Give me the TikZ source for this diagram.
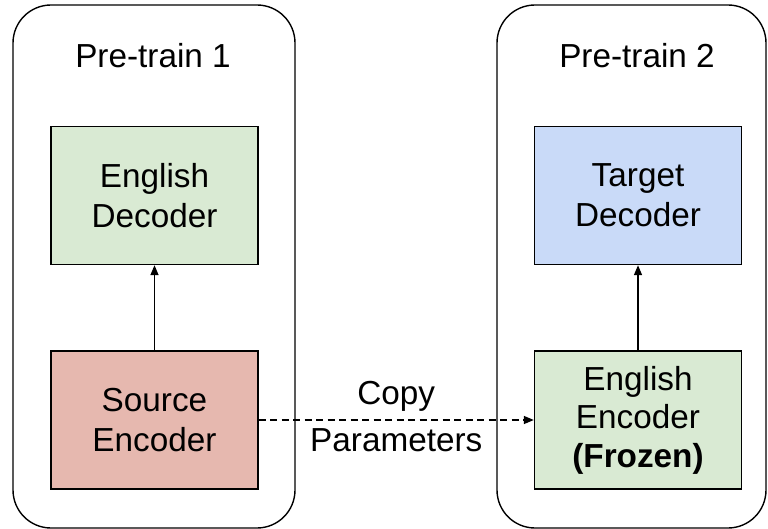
\documentclass[tikz,border=0pt]{standalone}
\usepackage{fontspec}
\setmainfont{Liberation Sans}
\usetikzlibrary{arrows.meta}
\begin{document}
\begin{tikzpicture}[x=1pt,y=-1pt,
  panel/.style={draw=black, line width=1.4pt, rounded corners=38pt, inner sep=0pt},
  block/.style={draw=black, line width=1.4pt, minimum width=207pt, minimum height=138pt,
    inner sep=0pt, align=center, font=\fontsize{33.3}{40}\selectfont},
  title/.style={anchor=base, inner sep=0pt, font=\fontsize{33.3}{39}\selectfont},
  flow/.style={line width=1.5pt, -{Triangle[length=10pt,width=8pt]}},
  copylabel/.style={inner sep=0pt, align=center, font=\fontsize{33.3}{47}\selectfont},
]
\definecolor{greenfill}{HTML}{D9EAD3}
\definecolor{redfill}{HTML}{E6B8AF}
\definecolor{bluefill}{HTML}{C9DAF8}

\useasboundingbox (0,0) rectangle (768,529);

% the two training stages
\node[panel, minimum width=282pt, minimum height=523pt] (stageA) at (154,266.5) {};
\node[panel, minimum width=269pt, minimum height=523pt] (stageB) at (631.5,266.5) {};
\node[title] (titleA) at (153,68) {Pre-train 1};
\node[title] (titleB) at (637,68) {Pre-train 2};

% stage 1 blocks
\node[block, fill=greenfill] (engdec) at (154.5,195.5) {English\\Decoder};
\node[block, fill=redfill]   (srcenc) at (154.5,420) {Source\\Encoder};

% stage 2 blocks
\node[block, fill=bluefill]  (tgtdec) at (638,195.5) {Target\\Decoder};
\node[block, fill=greenfill, font=\fontsize{33.3}{38.5}\selectfont] (engenc) at (638,420)
  {English\\Encoder\\\textbf{(Frozen)}};

% connectors
\draw[flow] (srcenc) -- (engdec);
\draw[flow] (engenc) -- (tgtdec);
\draw[flow, dash pattern=on 7pt off 4.5pt] (srcenc) --
  node[copylabel, yshift=3.5pt] (copylbl) {Copy\\Parameters} (engenc);
\end{tikzpicture}
\end{document}
